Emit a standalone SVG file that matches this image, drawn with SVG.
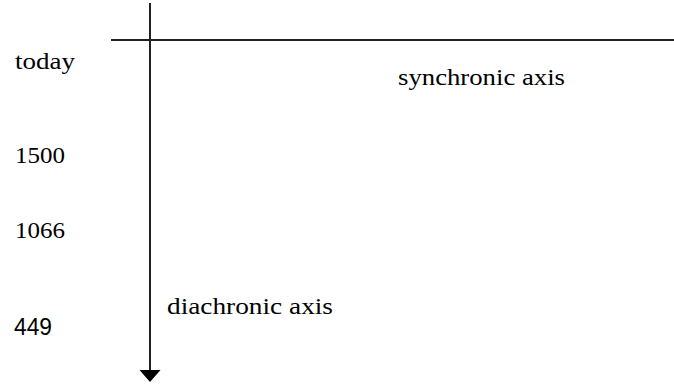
<svg xmlns="http://www.w3.org/2000/svg" width="674" height="387" viewBox="0 0 674 387">
<style>
.t{font-family:"Liberation Serif","Times New Roman",serif;font-size:23px;fill:#000}
.s{font-family:"Liberation Sans",Arial,sans-serif;font-size:23px;fill:#000}
.ax{stroke:#222;stroke-width:2;fill:none}
</style>
<g id="connectors">
<line class="ax" x1="150" y1="3" x2="150" y2="371"/>
<polygon points="139.5,370 160.5,370 150,382" fill="#000"/>
<line class="ax" x1="111" y1="40" x2="674" y2="40"/>
</g>
<g id="label-today"><text class="t" x="15" y="69" textLength="60" lengthAdjust="spacingAndGlyphs">today</text></g>
<g id="label-synchronic"><text class="t" x="398" y="85" textLength="167" lengthAdjust="spacingAndGlyphs">synchronic axis</text></g>
<g id="label-1500"><text class="t" x="15" y="163" textLength="50" lengthAdjust="spacingAndGlyphs">1500</text></g>
<g id="label-1066"><text class="t" x="15" y="238" textLength="50" lengthAdjust="spacingAndGlyphs">1066</text></g>
<g id="label-diachronic"><text class="t" x="167" y="314" textLength="166" lengthAdjust="spacingAndGlyphs">diachronic axis</text></g>
<g id="label-449"><text class="s" x="14" y="335" textLength="38" lengthAdjust="spacingAndGlyphs">449</text></g>
</svg>
